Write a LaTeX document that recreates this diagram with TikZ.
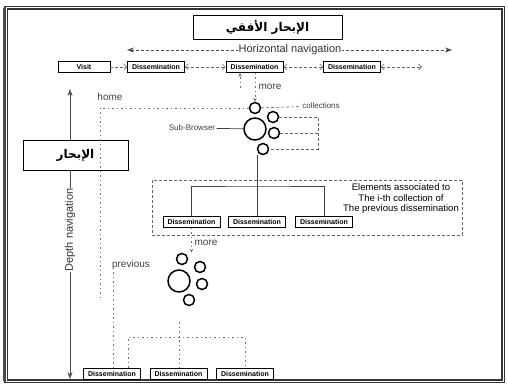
\documentclass[tikz,border=0pt]{standalone}
\usepackage{fontspec}
\setmainfont{Liberation Sans}
\newfontfamily\arabicfont[Script=Arabic]{DejaVu Sans}
\TeXXeTstate=1
\usepackage{tikz}
\usetikzlibrary{positioning, arrows.meta}
\tikzstyle{dissBox}=[draw, line width=0.7pt, rectangle, minimum width=57pt, minimum height=11pt, inner sep=0pt, font=\fontsize{7}{8}\selectfont\bfseries]
\tikzstyle{titleBox}=[draw, line width=0.9pt, rectangle, fill=white, font=\arabicfont\fontsize{12}{14}\selectfont\bfseries]
\tikzstyle{bigBubble}=[draw, circle, line width=1.5pt, minimum size=22pt, inner sep=0pt]
\tikzstyle{smallBubble}=[draw, circle, line width=1.5pt, minimum size=11pt, inner sep=0pt]
\tikzstyle{navArrow}=[{Stealth[length=7pt, width=5pt]}-{Stealth[length=7pt, width=5pt]}, black!70, line width=0.6pt]
\tikzstyle{linkArrow}=[black!60, densely dashed, line width=0.6pt]
\tikzstyle{linkTip}=[{Straight Barb[length=3pt, width=6pt]}]
\tikzstyle{backLine}=[black!55, line width=0.6pt, dash pattern=on 1.5pt off 3pt]
\tikzstyle{backTip}=[-{Stealth[length=4pt, width=3.5pt]}]
\tikzstyle{treeLine}=[black!75, line width=0.7pt]
\tikzstyle{noteText}=[font=\fontsize{10}{12}\selectfont, text=black!75, inner sep=1pt]
\tikzstyle{smallNote}=[font=\fontsize{8}{10}\selectfont, text=black!75, inner sep=1pt]

\begin{document}
\begin{tikzpicture}[x=1pt, y=-1pt]
	\useasboundingbox (0,0) rectangle (508,385);
	\draw[line width=1.4pt, double, double distance=1pt, black!80] (6,8) rectangle (503,381);
	\draw[line width=3pt, black!70] (4,8) -- (4,381);

	% navigation arrows
	\coordinate (hLeft) at (127,50);
	\coordinate (hRight) at (452,50);
	\draw[navArrow, densely dashed] (hLeft) -- (hRight);
	\coordinate (dTop) at (70,89);
	\coordinate (dBottom) at (70,379);
	\draw[navArrow] (dTop) -- (dBottom);

	\node[titleBox, minimum width=149pt, minimum height=24pt] (hTitle) at (267.5,27) {\beginR الإبحار الأفقي\endR};
	\node[fill=white, font=\fontsize{11}{13}\selectfont, text=black!80, inner sep=1pt] (hNav) at (290,50) {Horizontal navigation};
	\node[titleBox, minimum width=105pt, minimum height=30pt] (dTitle) at (75.5,155) {\beginR الإبحار\endR};
	\node[fill=white, rotate=90, font=\fontsize{11}{13}\selectfont, text=black!80, inner sep=1pt] (dNav) at (70,230) {Depth navigation};

	% top row
	\node[dissBox, minimum width=52pt] (visit) at (84,67) {Visit};
	\node[dissBox] (d1) at (156,67) {Dissemination};
	\node[dissBox] (d2) at (254.5,67) {Dissemination};
	\node[dissBox] (d3) at (352,67) {Dissemination};
	\coordinate (dEnd) at (422,67);

	\draw[linkArrow, -{Straight Barb[length=3pt, width=6pt]}] (visit) -- (d1);
	\draw[linkArrow, {Straight Barb[length=3pt, width=6pt]}-{Straight Barb[length=3pt, width=6pt]}] (d1) -- (d2);
	\draw[linkArrow, {Straight Barb[length=3pt, width=6pt]}-{Straight Barb[length=3pt, width=6pt]}] (d2) -- (d3);
	\draw[linkArrow, {Straight Barb[length=3pt, width=6pt]}-{Straight Barb[length=3pt, width=6pt]}] (d3) -- (dEnd);

	% first collection
	\node[smallBubble] (c1top) at (255,108) {};
	\node[bigBubble] (c1big) at (255,129) {};
	\node[smallBubble] (c1r1) at (273,117) {};
	\node[smallBubble] (c1r2) at (274,133) {};
	\node[smallBubble] (c1bot) at (263,149) {};

	\coordinate (back1) at (240,88);
	\draw[backLine, backTip] (back1) -- (back1 |- d2.south);
	\draw[backLine, backTip] (d2.south -| c1top) -- (c1top);
	\node[noteText] (more1) at (270,87) {more};

	\node[noteText] (home) at (110,97) {home};
	\coordinate (homeCorner) at (100,108);
	\coordinate (homeEnd) at (100,297);
	\draw[backLine] (c1top) -- (homeCorner) -- (homeEnd);

	\node[smallNote] (coll) at (321,106) {collections};
	\draw[linkArrow] (c1top) -- (coll);
	\coordinate (brTop) at (318,117);
	\draw[linkArrow] (c1r1) -- (brTop) |- (c1bot);
	\draw[linkArrow] (c1r2) -- (c1r2 -| brTop);

	\node[smallNote] (sub) at (192,128) {Sub-Browser};
	\draw[treeLine] (sub) -- (c1big);

	% elements of the i-th collection
	\node[draw, black!60, line width=0.6pt, densely dashed, minimum width=310pt, minimum height=55pt] (elemFrame) at (307,207.5) {};
	\node[align=center, font=\fontsize{9.5}{10.5}\selectfont, inner sep=0pt] (elemText) at (401,199) {Elements associated to\\The i-th collection of\\The previous dissemination};

	\node[dissBox] (m1) at (191.5,222) {Dissemination};
	\node[dissBox] (m2) at (257,222) {Dissemination};
	\node[dissBox] (m3) at (324,222) {Dissemination};

	\coordinate (hub1) at (258,186);
	\draw[treeLine] (c1bot.south -| m2) -- (m2);
	\draw[treeLine] (m1) |- (hub1) -- (hub1 -| m3) -- (m3);

	% second collection
	\node[smallBubble] (c2top) at (182,259) {};
	\node[bigBubble] (c2big) at (179,281) {};
	\node[smallBubble] (c2r1) at (200,267) {};
	\node[smallBubble] (c2r2) at (202,284) {};
	\node[smallBubble] (c2bot) at (189,300) {};

	\draw[backLine, backTip] (m1) -- (m1 |- c2top.north);
	\node[noteText] (more2) at (206,243) {more};

	% last row
	\node[dissBox] (b1) at (112,373.5) {Dissemination};
	\node[dissBox] (b2) at (178.5,373.5) {Dissemination};
	\node[dissBox] (b3) at (245,373.5) {Dissemination};

	\node[noteText] (prev) at (131,265) {previous};
	\coordinate (prevTop) at (113,272);
	\draw[backLine] (prevTop) -- (prevTop |- b1.north);

	\coordinate (drop2) at (179,322);
	\coordinate (split2) at (128,337);
	\draw[backLine] (drop2) -- (drop2 |- b2.north);
	\draw[backLine] (b1.north -| split2) -- (split2) -- (split2 -| b3) -- (b3);
\end{tikzpicture}
\end{document}
